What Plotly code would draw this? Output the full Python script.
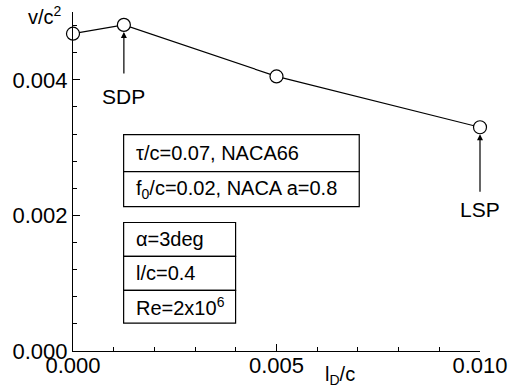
import plotly.graph_objects as go

# Sail-point positions and pressure coefficient
ld_c = [0.0, 0.00125, 0.005, 0.010]
v_c2 = [0.00468, 0.00481, 0.00405, 0.00330]

x_ticks = [0.0, 0.005, 0.010]
x_tick_text = ["0.000", "0.005", "0.010"]
y_ticks = [0.0, 0.002, 0.004]
y_tick_text = ["0.000", "0.002", "0.004"]

box_top = ["τ/c=0.07, NACA66", "f<sub>0</sub>/c=0.02, NACA a=0.8"]
box_bottom = ["α=3deg", "l/c=0.4", "Re=2x10<sup>6</sup>"]

FONT = "Liberation Sans, Arial, sans-serif"

fig = go.Figure()
fig.add_trace(go.Scatter(
    x=ld_c, y=v_c2, mode="lines+markers",
    line=dict(color="black", width=1.2),
    marker=dict(symbol="circle", size=13, color="white",
                line=dict(color="black", width=1.2)),
    showlegend=False, cliponaxis=False,
))

fig.update_layout(
    width=520, height=390,
    margin=dict(l=72, r=30, t=12, b=38),
    paper_bgcolor="white", plot_bgcolor="white",
    font=dict(family=FONT, size=22, color="black"),
    xaxis=dict(range=[0, 0.010], showline=True, linecolor="black", linewidth=1.2,
               showgrid=False, zeroline=False, ticks="inside", ticklen=7,
               tickwidth=1.2, tickcolor="black", ticklabelstandoff=-6,
               tickvals=x_ticks, ticktext=x_tick_text,
               minor=dict(dtick=0.001, ticks="inside", ticklen=4, tickwidth=1,
                          tickcolor="black", showgrid=False)),
    yaxis=dict(range=[0, 0.005], showline=True, linecolor="black", linewidth=1.2,
               showgrid=False, zeroline=False, ticks="inside", ticklen=7,
               tickwidth=1.2, tickcolor="black",
               tickvals=y_ticks, ticktext=y_tick_text,
               minor=dict(dtick=0.0004, tick0=0, ticks="inside", ticklen=4,
                          tickwidth=1, tickcolor="black", showgrid=False)),
)

# axis titles
fig.add_annotation(text="v/c<sup>2</sup>", xref="paper", yref="paper",
                   x=-0.022, y=0.99, xanchor="right", yanchor="middle",
                   showarrow=False, font=dict(size=20))
fig.add_annotation(text="l<sub>D</sub>/c", xref="paper", yref="paper",
                   x=0.657, y=-0.072, xanchor="center", yanchor="middle",
                   showarrow=False, font=dict(size=20))

# labelled arrows: SDP and LSP
for xv, yv, label, tail, txt in [(ld_c[1], v_c2[1], "SDP", 50, 72),
                                 (ld_c[3], v_c2[3], "LSP", 66, 82)]:
    fig.add_annotation(x=xv, y=yv, ax=0, ay=tail, text="", showarrow=True,
                       arrowhead=2, arrowsize=1, arrowwidth=1.2,
                       arrowcolor="black", standoff=7)
    fig.add_annotation(x=xv, y=yv, text=label, showarrow=False,
                       yshift=-txt, xanchor="center", yanchor="middle",
                       font=dict(size=21))

# parameter boxes
def add_box_stack(x0, x1, edges, labels):
    for (ya, yb), lab in zip(zip(edges[:-1], edges[1:]), labels):
        fig.add_shape(type="rect", xref="paper", yref="paper",
                      x0=x0, x1=x1, y0=yb, y1=ya,
                      line=dict(color="black", width=1.2), fillcolor="white",
                      layer="above")
        fig.add_annotation(text=lab, xref="paper", yref="paper",
                           x=x0 + 0.025, y=(ya + yb) / 2, xanchor="left",
                           yanchor="middle", showarrow=False,
                           font=dict(size=20))

add_box_stack(0.1244, 0.7033, [0.638, 0.529, 0.426], box_top)
add_box_stack(0.1244, 0.3995, [0.379, 0.279, 0.179, 0.082], box_bottom)

fig.write_html("out.html")
